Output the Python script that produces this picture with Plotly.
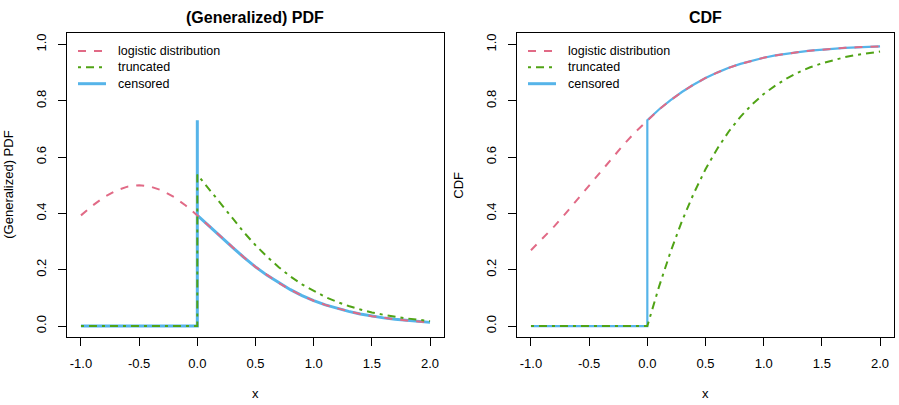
import plotly.graph_objects as go

# ---- data ----
x_grid = [-1.0, -0.9, -0.8, -0.7, -0.6, -0.5, -0.4, -0.3, -0.2, -0.1,
          0.0, 0.1, 0.2, 0.3, 0.4, 0.5, 0.6, 0.7, 0.8, 0.9,
          1.0, 1.1, 1.2, 1.3, 1.4, 1.5, 1.6, 1.7, 1.8, 1.9, 2.0]

logis_pdf = [0.393, 0.428, 0.458, 0.481, 0.495, 0.500, 0.495, 0.481, 0.458, 0.428,
             0.393, 0.356, 0.317, 0.280, 0.244, 0.210, 0.180, 0.153, 0.129, 0.108,
             0.090, 0.075, 0.063, 0.052, 0.043, 0.035, 0.029, 0.024, 0.020, 0.016, 0.013]

logis_cdf = [0.269, 0.310, 0.354, 0.401, 0.450, 0.500, 0.550, 0.599, 0.646, 0.690,
             0.731, 0.769, 0.802, 0.832, 0.858, 0.881, 0.900, 0.917, 0.931, 0.943,
             0.953, 0.961, 0.968, 0.973, 0.978, 0.982, 0.985, 0.988, 0.990, 0.992, 0.993]

# below zero the truncated / censored curves are flat at zero
x_neg = [-1.0, 0.0]
zero_neg = [0.0, 0.0]

x_pos = [0.0, 0.1, 0.2, 0.3, 0.4, 0.5, 0.6, 0.7, 0.8, 0.9,
         1.0, 1.1, 1.2, 1.3, 1.4, 1.5, 1.6, 1.7, 1.8, 1.9, 2.0]

trunc_pdf = [0.538, 0.487, 0.434, 0.382, 0.333, 0.287, 0.246, 0.209, 0.176, 0.148,
             0.124, 0.103, 0.086, 0.071, 0.059, 0.048, 0.040, 0.033, 0.027, 0.022, 0.018]

trunc_cdf = [0.000, 0.139, 0.264, 0.375, 0.472, 0.557, 0.629, 0.691, 0.743, 0.787,
             0.824, 0.854, 0.880, 0.901, 0.919, 0.933, 0.945, 0.955, 0.963, 0.970, 0.975]

point_mass = 0.731   # censored probability mass at zero

x_ticks = [-1.0, -0.5, 0.0, 0.5, 1.0, 1.5, 2.0]
x_ticktext = ["-1.0", "-0.5", "0.0", "0.5", "1.0", "1.5", "2.0"]
y_ticks = [0.0, 0.2, 0.4, 0.6, 0.8, 1.0]
y_ticktext = ["0.0", "0.2", "0.4", "0.6", "0.8", "1.0"]

names = ["logistic distribution", "truncated", "censored"]
titles = ["(Generalized) PDF", "CDF"]

# ---- styling ----
PINK = "#E16A86"
GREEN = "#50A315"
BLUE = "#56B4E9"
FONT = "Liberation Sans, Arial, Helvetica, sans-serif"
W, H = 899, 405
PINK_DASH = "8px,8px"
GREEN_DASH = "3px,5px,8px,5px"

# censored / truncated traces (flat zero below 0, jump at 0)
cens_pdf_x = x_neg + [0.0] + x_pos
cens_pdf_y = zero_neg + [point_mass] + logis_pdf[10:]
cens_cdf_x = x_neg + x_pos
cens_cdf_y = zero_neg + logis_cdf[10:]

trunc_pdf_x = x_neg + x_pos
trunc_pdf_y = zero_neg + trunc_pdf
trunc_cdf_x = x_neg + x_pos
trunc_cdf_y = zero_neg + trunc_cdf

fig = go.Figure()

panels = [
    ("x", "y", cens_pdf_x, cens_pdf_y, logis_pdf, trunc_pdf_x, trunc_pdf_y, 3),
    ("x2", "y2", cens_cdf_x, cens_cdf_y, logis_cdf, trunc_cdf_x, trunc_cdf_y, 2.2),
]
for xa, ya, cx, cy, ly, tx, ty, cw in panels:
    fig.add_trace(go.Scatter(x=cx, y=cy, mode="lines", name=names[2], showlegend=False,
                             xaxis=xa, yaxis=ya, line=dict(color=BLUE, width=cw)))
    fig.add_trace(go.Scatter(x=x_grid, y=ly, mode="lines", name=names[0], showlegend=False,
                             xaxis=xa, yaxis=ya,
                             line=dict(color=PINK, width=2, dash=PINK_DASH)))
    fig.add_trace(go.Scatter(x=tx, y=ty, mode="lines", name=names[1], showlegend=False,
                             xaxis=xa, yaxis=ya,
                             line=dict(color=GREEN, width=2, dash=GREEN_DASH)))

x1d = [67 / W, 444 / W]
x2d = [517 / W, 894 / W]
yd = [1 - 337.3 / H, 1 - 33.2 / H]

axis_common = dict(showline=True, linecolor="black", linewidth=1, mirror=True,
                   ticks="outside", ticklen=8, tickcolor="black", tickwidth=1,
                   showgrid=False, zeroline=False, automargin=False,
                   tickfont=dict(family=FONT, size=13, color="black"))

fig.update_layout(
    width=W, height=H,
    margin=dict(l=0, r=0, t=0, b=0, autoexpand=False),
    paper_bgcolor="white", plot_bgcolor="white",
    font=dict(family=FONT, size=13, color="black"),
    showlegend=False,
    xaxis=dict(domain=x1d, range=[-1.12, 2.12], tickvals=x_ticks, ticktext=x_ticktext,
               anchor="y", ticklabelstandoff=6, **axis_common),
    yaxis=dict(domain=yd, range=[-0.04, 1.04], tickvals=y_ticks, ticktext=y_ticktext,
               tickangle=-90, anchor="x", ticklabelstandoff=7, **axis_common),
    xaxis2=dict(domain=x2d, range=[-1.12, 2.12], tickvals=x_ticks, ticktext=x_ticktext,
                anchor="y2", ticklabelstandoff=6, **axis_common),
    yaxis2=dict(domain=yd, range=[-0.04, 1.04], tickvals=y_ticks, ticktext=y_ticktext,
                tickangle=-90, anchor="x2", ticklabelstandoff=7, **axis_common),
)

ann = []
shapes = []
centers = [(x1d[0] + x1d[1]) / 2, (x2d[0] + x2d[1]) / 2]
ytitle_x = [8.5 / W, 458.5 / W]
legend_left = [78, 528]
legend_rows = [51, 67.3, 83.7]
legend_styles = [(PINK, 2, PINK_DASH), (GREEN, 2, GREEN_DASH), (BLUE, 3, "solid")]
for i in range(2):
    ann.append(dict(text="<b>" + titles[i] + "</b>", x=centers[i], y=1 - 17.5 / H,
                    xref="paper", yref="paper", showarrow=False,
                    xanchor="center", yanchor="middle",
                    font=dict(family=FONT, size=16, color="black")))
    ann.append(dict(text="x", x=centers[i], y=1 - 393 / H, xref="paper", yref="paper",
                    showarrow=False, xanchor="center", yanchor="middle",
                    font=dict(family=FONT, size=13, color="black")))
    ann.append(dict(text=titles[i], x=ytitle_x[i], y=(yd[0] + yd[1]) / 2,
                    xref="paper", yref="paper", showarrow=False, textangle=-90,
                    xanchor="center", yanchor="middle",
                    font=dict(family=FONT, size=13, color="black")))
    # legend (no box, like R's bty = "n")
    for k in range(3):
        col, wd, dsh = legend_styles[k]
        yy = 1 - legend_rows[k] / H
        shapes.append(dict(type="line", xref="paper", yref="paper",
                           x0=legend_left[i] / W, x1=(legend_left[i] + 28) / W,
                           y0=yy, y1=yy, line=dict(color=col, width=wd, dash=dsh)))
        ann.append(dict(text=names[k], x=(legend_left[i] + 38) / W, y=yy,
                        xref="paper", yref="paper", showarrow=False,
                        xanchor="left", yanchor="middle",
                        font=dict(family=FONT, size=12.5, color="black")))
fig.update_layout(annotations=ann, shapes=shapes)

fig.write_html("out.html", config={"displayModeBar": False},
               post_script="document.body.style.margin='0';")
